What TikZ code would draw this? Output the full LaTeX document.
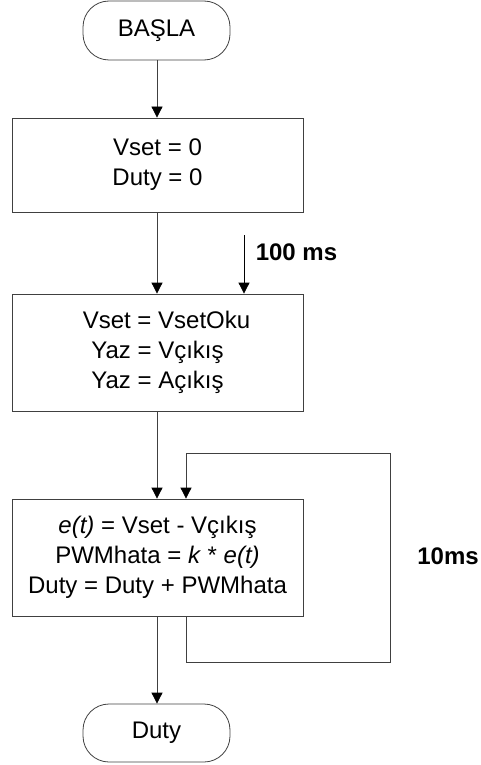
\documentclass[tikz,border=0pt]{standalone}
\usepackage{fontspec}
\setmainfont{Liberation Sans}
\usetikzlibrary{arrows.meta}
\begin{document}
\begin{tikzpicture}[x=1pt,y=-1pt,
  line width=0.8pt,
  txt/.style={font=\fontsize{24}{30}\selectfont},
  procbox/.style={draw=black!75, rectangle, minimum width=291pt, align=center, inner sep=0pt, txt},
  termbox/.style={draw=black!75, rectangle, rounded corners=26pt, minimum width=147pt, minimum height=59pt, inner sep=0pt, txt},
  arr/.style={draw=black!75, -{Triangle[width=11pt,length=11pt,color=black]}},
  lbl/.style={font=\bfseries\fontsize{24}{28}\selectfont, inner sep=0pt}]
\useasboundingbox (0,0) rectangle (480,765);

% terminators and process boxes
\node[termbox] (basla) at (156.5,30.5) {BAŞLA};
\node[procbox, minimum height=94pt] (init) at (157.5,165) {Vset = 0\\Duty = 0};
\node[procbox, minimum height=117pt] (read) at (157.5,352.5) {\hspace*{18pt}Vset = VsetOku\\Yaz = Vçıkış\\Yaz = Açıkış};
\node[procbox, minimum height=117pt] (ctrl) at (157.5,557.5) {\textit{e(t)} = Vset - Vçıkış\\PWMhata = \textit{k} * \textit{e(t)}\\Duty = Duty + PWMhata};
\node[termbox, minimum height=58pt] (duty) at (156.5,733) {Duty};

% main flow
\draw[arr] (basla.south -| 157,0) -- (init.north -| 157,0);
\draw[arr] (init.south -| 157,0) -- (read.north -| 157,0);
\draw[arr] (read.south -| 157,0) -- (ctrl.north -| 157,0);
\draw[arr] (ctrl.south -| 157,0) -- (duty.north -| 157,0);

% 100 ms trigger
\coordinate (tick) at (244,235);
\draw[arr, draw=black] (tick) -- (tick |- read.north);
\node[lbl] (t100) at (296.5,252) {100 ms};

% 10 ms control loop
\coordinate (loopA) at (186,453);
\coordinate (loopT) at (390,453);
\coordinate (loopB) at (390,662);
\draw[arr] (loopA |- ctrl.south) -- (loopA |- loopB) -- (loopB) -- (loopT) -- (loopA) -- (loopA |- ctrl.north);
\node[lbl] (t10) at (448,556) {10ms};
\end{tikzpicture}
\end{document}
